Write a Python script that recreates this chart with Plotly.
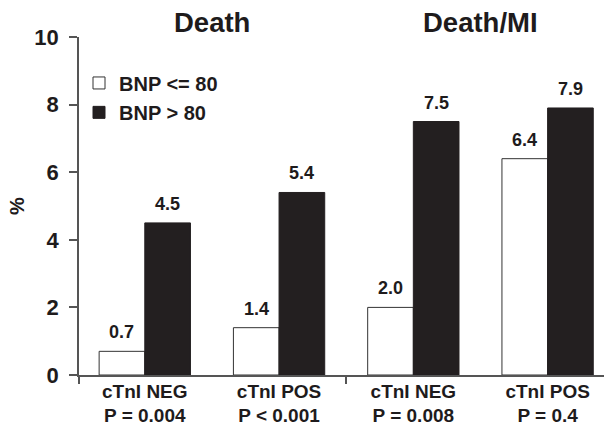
import plotly.graph_objects as go

categories = ["cTnI NEG<br>P = 0.004", "cTnI POS<br>P < 0.001", "cTnI NEG<br>P = 0.008", "cTnI POS<br>P = 0.4"]
bnp_low = [0.7, 1.4, 2.0, 6.4]
bnp_high = [4.5, 5.4, 7.5, 7.9]
low_labels = ["0.7", "1.4", "2.0", "6.4"]
high_labels = ["4.5", "5.4", "7.5", "7.9"]
panel_titles = ["Death", "Death/MI"]
panel_pos = [0.5, 2.5]
y_ticks = [0, 2, 4, 6, 8, 10]

FONT = "Liberation Sans, Arial, sans-serif"
INK = "#1e1b1c"
BAR_DARK = "rgb(35,31,32)"
AXIS = "#555555"

xpos = list(range(len(categories)))
bargap = 0.32
half = (1 - bargap) / 4  # offset of each bar's centre from category centre

fig = go.Figure()
fig.add_trace(go.Bar(
    x=xpos, y=bnp_low, name="BNP <= 80", legend="legend",
    marker=dict(color="white", line=dict(color="#333333", width=1)),
))
fig.add_trace(go.Bar(
    x=xpos, y=bnp_high, name="BNP > 80", legend="legend2",
    marker=dict(color=BAR_DARK, line=dict(color=BAR_DARK, width=1)),
))

annotations = []
for i, (v, t) in enumerate(zip(bnp_low, low_labels)):
    annotations.append(dict(x=i - half, y=v, xref="x", yref="y", text=t, showarrow=False,
                            yanchor="bottom", yshift=7,
                            font=dict(family=FONT, size=18, color=INK, weight="bold")))
for i, (v, t) in enumerate(zip(bnp_high, high_labels)):
    annotations.append(dict(x=i + half, y=v, xref="x", yref="y", text=t, showarrow=False,
                            yanchor="bottom", yshift=7,
                            font=dict(family=FONT, size=18, color=INK, weight="bold")))
for p, t in zip(panel_pos, panel_titles):
    annotations.append(dict(x=p, y=1, xref="x", yref="paper", text=t, showarrow=False,
                            yanchor="middle", yshift=15,
                            font=dict(family=FONT, size=27.5, color=INK, weight="bold")))

legend_common = dict(x=0.0, xanchor="left", yanchor="middle",
                     bgcolor="rgba(0,0,0,0)",
                     font=dict(family=FONT, size=20, color=INK, weight="bold"),
                     itemwidth=30)

fig.update_layout(
    width=604, height=425,
    margin=dict(l=79, r=0, t=37, b=50, autoexpand=False),
    paper_bgcolor="white", plot_bgcolor="white",
    barmode="group", bargap=bargap, bargroupgap=0,
    showlegend=True,
    legend=dict(y=0.864, **legend_common),
    legend2=dict(y=0.777, **legend_common),
    font=dict(family=FONT, color=INK),
    annotations=annotations,
    xaxis=dict(
        range=[-0.49, 3.42], tickmode="array", tickvals=xpos, ticktext=categories,
        showline=True, linecolor=AXIS, linewidth=1.5, ticks="", showgrid=False,
        zeroline=False, automargin=False, ticklabelstandoff=-2,
        tickfont=dict(family=FONT, size=19, color=INK, weight="bold"),
    ),
    xaxis2=dict(
        range=[-0.49, 3.42], overlaying="x", side="bottom", tickmode="array",
        tickvals=[-0.5 + 0.01, 1.5], showticklabels=False, ticks="outside",
        ticklen=8, tickwidth=1.5, tickcolor=AXIS, showgrid=False, zeroline=False,
        showline=False, automargin=False,
    ),
    yaxis=dict(
        range=[0, 10], tickmode="array", tickvals=y_ticks,
        showline=True, linecolor=AXIS, linewidth=1.5, ticks="outside",
        ticklen=8, tickwidth=1.5, tickcolor=AXIS, showgrid=False, zeroline=False,
        ticklabelstandoff=6, automargin=False,
        tickfont=dict(family=FONT, size=22, color=INK, weight="bold"),
        title=dict(text="%", standoff=4,
                   font=dict(family=FONT, size=20, color=INK, weight="bold")),
    ),
)
# invisible trace to activate the secondary axis used for boundary ticks
fig.add_trace(go.Scatter(x=[0], y=[0], xaxis="x2", mode="markers",
                         marker=dict(opacity=0), showlegend=False, hoverinfo="skip"))

fig.write_html("out.html", config={"displayModeBar": False},
               post_script="document.body.style.margin='0px';")
